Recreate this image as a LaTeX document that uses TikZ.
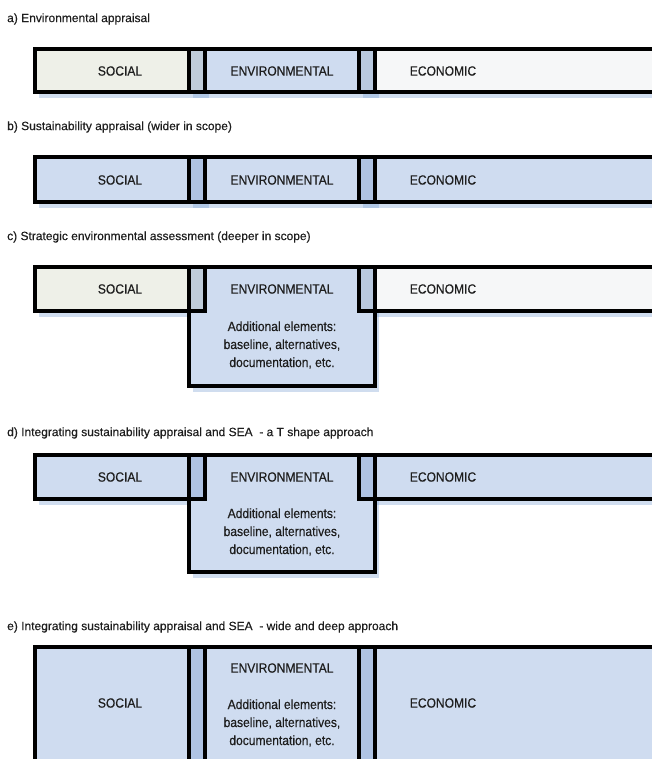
\documentclass[tikz,border=0pt]{standalone}
\usepackage{fontspec}
\setmainfont[FakeBold=0.3]{Liberation Sans}
\newfontfamily\boxfont[FakeStretch=0.9,FakeBold=0.4]{Liberation Sans}
\usetikzlibrary{positioning}
\definecolor{Sky}{HTML}{CFDCF0}
\definecolor{SkyDeep}{HTML}{AFC3E3}
\definecolor{Sage}{HTML}{EEF0E8}
\definecolor{Paper}{HTML}{F6F7F8}
\definecolor{Slate}{HTML}{BFCCDA}
\definecolor{SlateB}{HTML}{B9C9DF}
\definecolor{Shade}{HTML}{7A9FD2}
\definecolor{Ink}{HTML}{1E1E1E}

\begin{document}
\begin{tikzpicture}[x=1pt,y=-1pt,
    heading/.style={anchor=west,inner sep=0pt,font=\fontsize{12}{14}\selectfont,text=Ink},
    tag/.style={inner sep=0pt,align=center,font=\boxfont\fontsize{13.4}{18}\selectfont,text=Ink},
    rim/.style={draw=black,line width=3.2pt},
    shade/.style={fill=Shade,fill opacity=0.35}]
    \useasboundingbox (0,0) rectangle (652,759);
    \clip (0,0) rectangle (652,759);
    \fill[white] (0,0) rectangle (652,759);

    % a) environmental appraisal
    \node[heading] (ta) at (7,19) {a) Environmental appraisal};
    \fill[shade] (39,54) rectangle (209,98);
    \fill[shade] (193,54) rectangle (379,98);
    \fill[shade] (363,54) rectangle (664,98);
    \fill[Sage] (35,49) rectangle (205,92);
    \fill[Paper] (359,49) rectangle (660,92);
    \fill[Sky] (189,49) rectangle (375,92);
    \fill[Slate] (189,49) rectangle (205,92);
    \fill[SlateB] (359,49) rectangle (375,92);
    \draw[rim] (35,49) rectangle (205,92);
    \draw[rim] (189,49) rectangle (375,92);
    \draw[rim] (359,49) rectangle (660,92);
    \node[tag] (socA) at (120,71) {SOCIAL};
    \node[tag] (envA) at (282,71) {ENVIRONMENTAL};
    \node[tag] (ecoA) at (443,71) {ECONOMIC};

    % b) sustainability appraisal
    \node[heading] (tb) at (7,127) {b) Sustainability appraisal (wider in scope)};
    \fill[shade] (39,162) rectangle (209,208);
    \fill[shade] (193,162) rectangle (379,208);
    \fill[shade] (363,162) rectangle (664,208);
    \fill[Sky] (35,157) rectangle (660,202);
    \fill[SkyDeep] (189,157) rectangle (205,202);
    \fill[SkyDeep] (359,157) rectangle (375,202);
    \draw[rim] (35,157) rectangle (205,202);
    \draw[rim] (189,157) rectangle (375,202);
    \draw[rim] (359,157) rectangle (660,202);
    \node[tag] (socB) at (120,180) {SOCIAL};
    \node[tag] (envB) at (282,180) {ENVIRONMENTAL};
    \node[tag] (ecoB) at (443,180) {ECONOMIC};

    % c) strategic environmental assessment
    \node[heading] (tc) at (7,237) {c) Strategic environmental assessment (deeper in scope)};
    \fill[shade] (39,272) rectangle (209,317);
    \fill[shade] (193,272) rectangle (379,392);
    \fill[shade] (363,272) rectangle (664,317);
    \fill[Sage] (35,267) rectangle (205,311);
    \fill[Paper] (359,267) rectangle (660,311);
    \fill[Sky] (189,267) rectangle (375,386);
    \fill[Slate] (189,267) rectangle (205,311);
    \fill[SlateB] (359,267) rectangle (375,311);
    \draw[rim] (35,267) rectangle (205,311);
    \draw[rim] (189,267) rectangle (375,386);
    \draw[rim] (359,267) rectangle (660,311);
    \node[tag] (socC) at (120,289) {SOCIAL};
    \node[tag] (envC) at (282,289) {ENVIRONMENTAL};
    \node[tag] (ecoC) at (443,289) {ECONOMIC};
    \node[tag] (addC) at (282,345) {Additional elements:\\baseline, alternatives,\\documentation, etc.};

    % d) T shape approach
    \node[heading] (td) at (7,433) {d) Integrating sustainability appraisal and SEA\ \ - a T shape approach};
    \fill[shade] (39,460) rectangle (209,505);
    \fill[shade] (193,460) rectangle (379,578);
    \fill[shade] (363,460) rectangle (664,505);
    \fill[Sky] (35,455) rectangle (660,499);
    \fill[Sky] (189,455) rectangle (375,572);
    \fill[SkyDeep] (189,455) rectangle (205,499);
    \fill[SkyDeep] (359,455) rectangle (375,499);
    \draw[rim] (35,455) rectangle (205,499);
    \draw[rim] (189,455) rectangle (375,572);
    \draw[rim] (359,455) rectangle (660,499);
    \node[tag] (socD) at (120,477) {SOCIAL};
    \node[tag] (envD) at (282,477) {ENVIRONMENTAL};
    \node[tag] (ecoD) at (443,477) {ECONOMIC};
    \node[tag] (addD) at (282,532) {Additional elements:\\baseline, alternatives,\\documentation, etc.};

    % e) wide and deep approach
    \node[heading] (te) at (7,627) {e) Integrating sustainability appraisal and SEA\ \ - wide and deep approach};
    \fill[Sky] (35,647) rectangle (660,780);
    \fill[SkyDeep] (189,647) rectangle (205,780);
    \fill[SkyDeep] (359,647) rectangle (375,780);
    \draw[rim] (35,647) rectangle (205,780);
    \draw[rim] (189,647) rectangle (375,780);
    \draw[rim] (359,647) rectangle (660,780);
    \node[tag] (socE) at (120,703) {SOCIAL};
    \node[tag] (envE) at (282,668) {ENVIRONMENTAL};
    \node[tag] (ecoE) at (443,703) {ECONOMIC};
    \node[tag] (addE) at (282,723) {Additional elements:\\baseline, alternatives,\\documentation, etc.};
  \end{tikzpicture}
\end{document}
